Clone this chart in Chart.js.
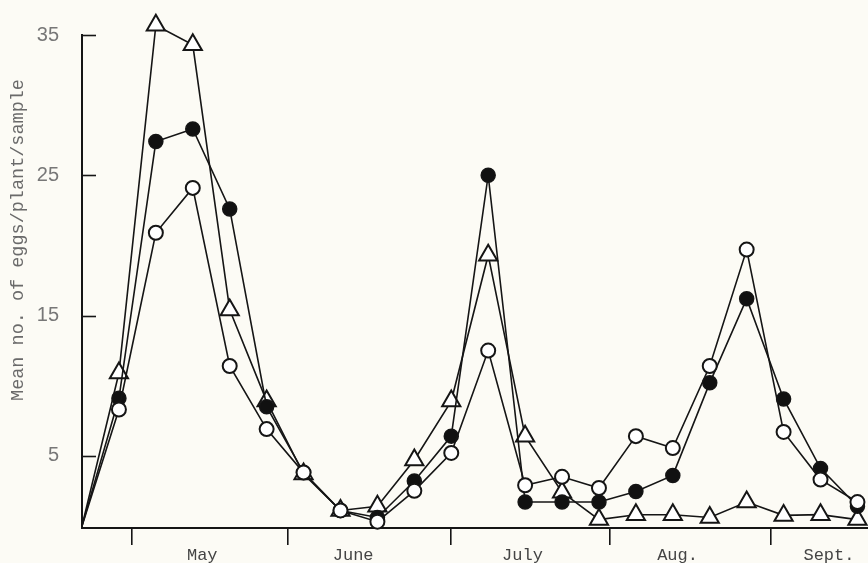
<!DOCTYPE html>
<html>
<head>
<meta charset="utf-8">
<script src="https://cdn.jsdelivr.net/npm/chart.js@4.4.1/dist/chart.umd.min.js"></script>
<style>
  html, body { margin: 0; padding: 0; background: #fcfbf5; }
  #wrap { width: 868px; height: 563px; position: relative; }
</style>
</head>
<body>
<div id="wrap"><canvas id="eggChart"></canvas></div>
<script>
// weekly samples, day 0 = first sample (late April)
const sampleDays = [0, 7, 14, 21, 28, 35, 42, 49, 56, 63, 70, 77, 84, 91, 98, 105, 112, 119, 126, 133, 140, 147];
const openCircles   = [0, 8.3, 20.9, 24.1, 11.4, 6.9, 3.8, 1.1, 0.3, 2.5, 5.2, 12.5, 2.9, 3.5, 2.7, 6.4, 5.55, 11.4, 19.7, 6.7, 3.3, 1.7];
const filledCircles = [0, 9.1, 27.4, 28.3, 22.6, 8.5, 3.8, 1.1, 0.6, 3.2, 6.4, 25.0, 1.7, 1.7, 1.7, 2.45, 3.6, 10.2, 16.2, 9.05, 4.1, 1.4];
const openTriangles = [0, 10.9, 35.7, 34.3, 15.4, 8.9, 3.7, 1.1, 1.4, 4.7, 8.9, 19.3, 6.4, 2.4, 0.45, 0.8, 0.8, 0.6, 1.7, 0.75, 0.8, 0.45];

// month boundaries and label positions, in the same day units
const monthBounds = [9.5, 39, 70, 100, 130.5];
const monthCentres = [22.8, 51.4, 83.5, 112.9, 141.6];
const monthNames = ['May', 'June', 'July', 'Aug.', 'Sept.'];
const yTicks = [5, 15, 25, 35];
const yTitle = 'Mean no. of eggs/plant/sample';

const ink = '#151515';

function pts(vals) {
    return sampleDays.map((d, i) => ({ x: d, y: vals[i] }));
}
const noFirst = r => ctx => ctx.dataIndex === 0 ? 0 : r;

// inward y ticks + rotated axis title
const extras = {
    id: 'extras',
    afterDraw(chart) {
        const ctx = chart.ctx;
        const y = chart.scales.y;
        ctx.save();
        ctx.strokeStyle = ink;
        ctx.lineWidth = 1.6;
        yTicks.forEach(v => {
            const py = Math.round(y.getPixelForValue(v)) + 0.5;
            ctx.beginPath();
            ctx.moveTo(y.right, py);
            ctx.lineTo(y.right + 14, py);
            ctx.stroke();
        });
        ctx.translate(18, 240);
        ctx.rotate(-Math.PI / 2);
        ctx.fillStyle = '#6a6a6a';
        ctx.font = '18.5px "Liberation Mono"';
        ctx.textAlign = 'center';
        ctx.textBaseline = 'middle';
        ctx.fillText(yTitle, 0, 0);
        ctx.restore();
    }
};

const ctxEgg = document.getElementById('eggChart').getContext('2d');
new Chart(ctxEgg, {
    type: 'line',
    data: {
        datasets: [
            { label: 'open circles', data: pts(openCircles), borderColor: ink, borderWidth: 1.6,
              pointStyle: 'circle', pointRadius: noFirst(7), pointBorderWidth: 2,
              pointBackgroundColor: '#ffffff', pointBorderColor: ink, clip: false },
            { label: 'filled circles', data: pts(filledCircles), borderColor: ink, borderWidth: 1.6,
              pointStyle: 'circle', pointRadius: noFirst(7), pointBorderWidth: 1.5,
              pointBackgroundColor: '#111111', pointBorderColor: ink, clip: false },
            { label: 'triangles', data: pts(openTriangles), borderColor: ink, borderWidth: 1.6,
              pointStyle: 'triangle', pointRadius: noFirst(10.5), pointBorderWidth: 2,
              pointBackgroundColor: '#ffffff', pointBorderColor: ink, clip: false }
        ]
    },
    options: {
        responsive: true,
        maintainAspectRatio: false,
        animation: false,
        layout: { autoPadding: false, padding: { top: 32, left: 0, right: 0, bottom: 0 } },
        plugins: { legend: { display: false }, tooltip: { enabled: false } },
        scales: {
            x: {
                type: 'linear', min: 0, max: 149,
                afterFit: s => { s.height = 35; s.paddingLeft = 0; s.paddingRight = 0; },
                afterBuildTicks: s => {
                    s.ticks = [...monthBounds, ...monthCentres].sort((a, b) => a - b).map(v => ({ value: v }));
                },
                grid: {
                    drawOnChartArea: false, drawTicks: true, tickLength: 17, lineWidth: 1.6,
                    color: c => (c.tick && monthBounds.includes(c.tick.value)) ? ink : 'rgba(0,0,0,0)'
                },
                border: { display: true, color: ink, width: 2 },
                ticks: {
                    autoSkip: false, maxRotation: 0, padding: 0, color: '#444',
                    font: { family: 'Liberation Mono', size: 17 },
                    callback: v => { const i = monthCentres.indexOf(v); return i >= 0 ? monthNames[i] : ''; }
                }
            },
            y: {
                min: -0.15, max: 35,
                afterFit: s => { s.width = 82; },
                afterBuildTicks: s => { s.ticks = yTicks.map(v => ({ value: v })); },
                grid: { display: false, drawTicks: false },
                border: { display: true, color: ink, width: 2 },
                ticks: { padding: 23, color: '#777', font: { family: 'Liberation Sans', size: 20 } }
            }
        }
    },
    plugins: [extras]
});
</script>
</body>
</html>
